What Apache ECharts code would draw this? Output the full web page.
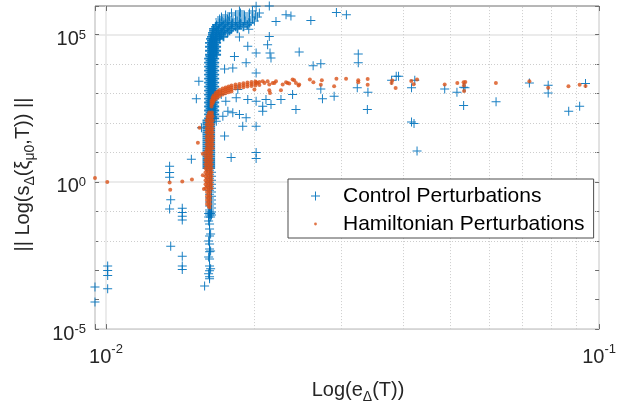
<!DOCTYPE html>
<html><head><meta charset="utf-8">
<script src="https://cdn.jsdelivr.net/npm/echarts/dist/echarts.min.js"></script>
<style>html,body{margin:0;padding:0;background:#fff}#c{width:619px;height:409px}</style>
</head><body><div id="c"></div>
<script>
// ---- axes / ticks ----
const xRange = [0.009501, 0.1];
const yRange = [1e-5, 9.4e5];
const xMajorTicks = [0.01, 0.1];
const yMajorTicks = [1e-5, 1, 1e5];
const xMinorGrid = [0.02, 0.03, 0.04, 0.05, 0.06, 0.07, 0.08, 0.09];
const yMinorGrid = [1e-4, 1e-3, 1e-2, 1e-1, 1e1, 1e2, 1e3, 1e4];
const seriesNames = ['Control Perturbations', 'Hamiltonian Perturbations'];
const xTitle = 'Log(e{sub|Δ}(T))';
const yTitle = '|| Log(s{sub|Δ}(ξ{sub|μ0},T)) ||';

// ---- Control perturbations (x, y) ----
const controlLower = [
[0.01585,0.00029],[0.01622,0.00051],[0.01622,0.0006],[0.01615,0.00076],[0.01622,0.00095],[0.0163,0.00112],[0.01622,0.0014],[0.01622,0.0024],[0.01615,0.0028],[0.01622,0.0042],[0.0163,0.0045],[0.01622,0.0053],[0.01622,0.0078],[0.01615,0.0099],[0.01622,0.0146],[0.0163,0.017],[0.01622,0.0251],[0.01622,0.0371],[0.01615,0.0469],
[0.01615,0.064],[0.0163,0.064],[0.01622,0.075],[0.01637,0.075],[0.01615,0.085],[0.0163,0.085],[0.01622,0.094],[0.01637,0.094],
[0.01622,0.11],[0.01637,0.129],[0.01622,0.151],[0.01637,0.176],[0.01622,0.206],[0.01637,0.241],[0.01622,0.281],[0.01637,0.328],[0.01622,0.38],[0.01637,0.449],[0.01622,0.524],[0.01637,0.612],[0.01622,0.716],[0.01637,0.836],[0.01622,0.977],[0.01637,1.14],[0.01622,1.33],[0.01637,1.56],[0.01622,1.82],[0.01637,2.13],[0.01622,2.49]
];
const controlMiddle = [
[0.01603,2.91],[0.0163,2.91],[0.01603,3.4],[0.0163,3.4],[0.01603,3.97],[0.0163,3.97],[0.01603,4.64],[0.0163,4.64],[0.01603,5.42],[0.0163,5.42],
[0.01603,6.33],[0.0163,6.33],[0.01603,7.4],[0.0163,7.4],[0.01603,8.64],[0.0163,8.64],[0.01603,10.1],[0.0163,10.1],[0.01603,11.8],[0.0163,11.8],
[0.01603,13.8],[0.0163,13.8],[0.01603,16.1],[0.0163,16.1],[0.01603,18.8],[0.0163,18.8],[0.01603,22],[0.0163,22],[0.01603,25.7],[0.0163,25.7],
[0.01603,30],[0.0163,30],[0.01603,35.1],[0.0163,35.1],[0.01603,41],[0.0163,41],[0.01603,48],[0.0163,48],[0.01603,56],[0.0163,56],
[0.01603,65.5],[0.0163,65.5],[0.01603,76.5],[0.0163,76.5],[0.01603,89.4],[0.0163,89.4],[0.01603,104],[0.0163,104],[0.01603,122],[0.0163,122]
];
const controlDense = [
[0.01615,143],[0.01637,143],[0.01661,143],[0.01626,167],[0.01649,167],
[0.01615,195],[0.01637,195],[0.01661,195],[0.01626,228],[0.01649,228],
[0.01615,266],[0.01637,266],[0.01661,266],[0.01626,311],[0.01649,311],
[0.01615,363],[0.01637,363],[0.01661,363],[0.01626,424],[0.01649,424],
[0.01615,496],[0.01637,496],[0.01661,496],[0.01626,579],[0.01649,579],
[0.01615,677],[0.01637,677],[0.01661,677],[0.01626,791],[0.01649,791],
[0.01615,925],[0.01637,925],[0.01661,925],[0.01626,1080],[0.01649,1080],
[0.01615,1262],[0.01637,1262],[0.01661,1262],[0.01626,1475],[0.01649,1475],
[0.01615,1723],[0.01637,1723],[0.01661,1723],[0.01626,2013],[0.01649,2013],
[0.01615,2353],[0.01637,2353],[0.01661,2353],[0.01626,2749],[0.01649,2749],
[0.01615,3213],[0.01637,3213],[0.01661,3213],[0.01626,3754],[0.01649,3754],
[0.01615,4386],[0.01637,4386],[0.01661,4386],[0.01626,5125],[0.01649,5125],
[0.01615,5988],[0.01637,5988],[0.01661,5988],[0.01626,6997],[0.01649,6997],
[0.01615,8176],[0.01637,8176],[0.01661,8176],[0.01626,9553],[0.01649,9553],
[0.01615,11162],[0.01637,11162],[0.01661,11162],[0.01626,13042],[0.01649,13042],
[0.01615,15239],[0.01637,15239],[0.01661,15239],[0.01626,17806],[0.01649,17806],
[0.01622,20806],[0.01645,20806],[0.01676,20806],[0.01637,24311],[0.01661,24311],
[0.01622,28406],[0.01645,28406],[0.01676,28406],[0.01637,33190],[0.01661,33190],
[0.01622,38781],[0.01645,38781],[0.01676,38781],[0.01637,45314],[0.01661,45314],
[0.01622,52947],[0.01645,52947],[0.01676,52947],[0.01637,61866],[0.01661,61866]
];
const controlTop = [
[0.0163,72287],[0.01653,72287],[0.01676,72287],[0.017,72287],
[0.01637,84464],[0.01669,84464],[0.017,84464],[0.01731,84464],
[0.01645,98692],[0.01676,98692],[0.01715,98692],
[0.01645,115317],[0.01676,115317],[0.01715,115317],[0.01764,115317],
[0.01653,134742],[0.01692,134742],[0.01731,134742],[0.0178,134742],
[0.01653,157440],[0.01692,157440],[0.0174,157440],[0.01797,157440],[0.01848,157440],
[0.01669,183960],[0.01715,183960],[0.01764,183960],[0.01831,183960],[0.019,183960],
[0.01676,214948],[0.01731,214948],[0.01797,214948],[0.01865,214948],[0.01936,214948],
[0.017,251157],[0.01748,251157],[0.01806,251157],[0.01874,251157],[0.01954,251157]
];
const controlCrest = [
[0.0172,293464],[0.01774,293464],[0.01845,293464],[0.01915,293464],[0.02,293464],
[0.017,342897],[0.01764,342897],[0.01831,342897],[0.01909,342897],[0.01982,342897],
[0.01715,400657],[0.0178,400657],[0.01865,400657],[0.01954,400657],[0.02028,400657],
[0.01748,468147],[0.01831,468147],[0.01909,468147],[0.02009,468147],
[0.01797,547005],[0.01874,547005],[0.01954,547005],[0.02047,547005],
[0.01865,640000],[0.01982,640000]
];
const controlOutliers = [
[0.02016,9.2e5],[0.02144,9.35e5],[0.02318,4.7e5],[0.02372,4.3e5],[0.02603,3.0e5],[0.02933,5.6e5],[0.03073,4.7e5],[0.01948,1.54e5],[0.02212,2.8e5],
[0.02144,8.7e4],[0.01865,8.3e4],[0.01939,4.0e4],[0.02127,4.5e4],[0.02016,2.4e4],[0.02151,2.4e4],[0.02161,1.6e4],[0.01822,1.8e4],[0.01924,1.12e4],
[0.01808,7.4e3],[0.0174,6.8e3],[0.02016,5.0e3],[0.02465,2.6e4],[0.01543,2.6e3],[0.01525,661],[0.01851,1.36e3],[0.02016,548],[0.02111,626],
[0.02079,372],[0.02264,626],[0.0239,925],[0.02428,288],[0.01924,151],[0.02016,78],[0.0174,36],[0.01674,115],[0.01794,6.7],[0.02016,9.9],[0.02016,6.2],
[0.0149,5.9],[0.01346,3.4],[0.01346,2.1],[0.01346,1.45],[0.01713,925],[0.01767,252],[0.01808,224],[0.01726,171],[0.01865,195],[0.02161,424],
[0.02079,252],[0.01894,78],[0.01562,69],[0.01837,715],[0.01939,626],[0.0175,548],
[0.02631,8.8e3],[0.02727,1.03e4],[0.03248,2.2e4],[0.03248,1.12e4],[0.02727,1.44e3],[0.02748,661],[0.02902,809],[0.03233,1.56e3],[0.03398,1.11e3],
[0.03389,288],[0.03795,2.81e3],[0.03878,3.85e3],[0.0392,3.85e3],[0.04165,1.56e3],[0.04229,2.81e3],[0.04165,107],[0.04214,97],[0.04274,11.2],
[0.04863,1.44e3],[0.05149,1.11e3],[0.05312,1.63e3],[0.05346,1.56e3],[0.05312,389],[0.06181,524],[0.07222,2.3e3],[0.07884,1.9e3],[0.07884,1.05e3],
[0.08677,252],[0.09132,372],[0.09385,2.18e3],
[0.01353,0.246],[0.01346,0.12],[0.01428,0.126],[0.01428,0.092],[0.01428,0.0676],[0.01428,0.0507],[0.01353,0.0065],[0.01428,0.003],[0.01428,0.00138],
[0.01428,0.00106],[0.01008,0.00138],[0.01008,0.00098],[0.01008,0.00066],[0.01008,0.000235],[0.0095,0.00027],[0.0095,8.3e-5]
];

// ---- Hamiltonian perturbations (x, y) ----
const hamiltonianLeft = [
[0.0095,1.35],[0.01006,1.0],[0.01346,0.95],[0.0135,0.54],[0.01428,1.03],[0.01494,1.2],[0.01536,21.5],[0.01548,69],[0.01572,9.1],[0.01572,1.69],[0.0158,0.57]
];
const hamiltonianColumn = [
[0.01622,0.136],[0.01615,0.151],[0.01603,0.176],[0.01626,0.176],[0.01615,0.206],[0.01603,0.241],[0.01626,0.241],[0.01615,0.281],
[0.01603,0.328],[0.01626,0.328],[0.01615,0.38],[0.01603,0.449],[0.01626,0.449],[0.01615,0.524],
[0.01592,0.612],[0.01615,0.612],[0.01637,0.612],[0.01603,0.716],[0.01626,0.716],[0.01592,0.836],[0.01615,0.836],[0.01637,0.836],
[0.01603,0.977],[0.01626,0.977],[0.01592,1.14],[0.01615,1.14],[0.01637,1.14],[0.01603,1.33],[0.01626,1.33],
[0.01592,1.56],[0.01615,1.56],[0.01637,1.56],[0.01603,1.82],[0.01626,1.82],[0.01592,2.13],[0.01615,2.13],[0.01637,2.13],
[0.01603,2.49],[0.01626,2.49],[0.01592,2.91],[0.01615,2.91],[0.01637,2.91],[0.01603,3.4],[0.01626,3.4],
[0.01592,3.97],[0.01615,3.97],[0.01637,3.97],[0.01603,4.64],[0.01626,4.64],[0.01592,5.42],[0.01615,5.42],[0.01637,5.42],
[0.01603,6.33],[0.01626,6.33],[0.01592,7.4],[0.01615,7.4],[0.01637,7.4],[0.01603,8.64],[0.01626,8.64],
[0.01592,10.1],[0.01615,10.1],[0.01637,10.1],[0.01603,11.8],[0.01626,11.8],
[0.016,13.8],[0.01622,13.8],[0.01645,13.8],[0.01611,16.1],[0.01634,16.1],[0.016,18.8],[0.01622,18.8],[0.01645,18.8],
[0.01611,22],[0.01634,22],[0.016,25.7],[0.01622,25.7],[0.01645,25.7],[0.01611,30],[0.01634,30],
[0.016,35.1],[0.01622,35.1],[0.01645,35.1],[0.01611,41],[0.01634,41],[0.016,48],[0.01622,48],[0.01645,48],
[0.01611,56],[0.01634,56],[0.016,65.5],[0.01622,65.5],[0.01645,65.5],[0.01611,76.5],[0.01634,76.5],
[0.016,89.4],[0.01622,89.4],[0.01645,89.4],[0.01611,104],[0.01634,104],[0.016,122],[0.01622,122],[0.01645,122],
[0.01611,143],[0.01634,143],[0.01607,167],[0.01626,167],[0.01645,167],[0.01615,195],[0.01637,195],[0.0162,228],[0.0164,228]
];
const hamiltonianCurve = [
[0.01637,579],[0.01637,496],[0.01637,424],[0.01637,363],
[0.01645,732],[0.01645,626],[0.01645,536],[0.01645,459],
[0.01653,855],[0.01653,732],[0.01653,626],[0.01653,536],
[0.01669,1040],[0.01669,889],[0.01669,761],[0.01669,651],
[0.01684,1167],[0.01684,1000],[0.01684,855],[0.01684,732],
[0.017,1313],[0.017,1123],[0.017,962],[0.017,822],
[0.01724,1475],[0.01724,1262],[0.01724,1081],[0.01724,925],
[0.01748,1619],[0.01748,1387],[0.01748,1186],[0.01748,1015],
[0.01772,1750],[0.01772,1499],[0.01772,1282],[0.01772,1097],
[0.01797,1864],[0.01797,1594],[0.01797,1365],[0.01797,1167],
[0.01831,2014],[0.01831,1723],[0.01831,1475],
[0.01865,2128],[0.01865,1821],[0.01865,1556],
[0.019,2246],[0.019,1923],[0.019,1644],
[0.01936,2354],[0.01936,2014],[0.01936,1723],
[0.01973,2466],[0.01973,2109],[0.01973,1806],
[0.02009,2544],[0.02009,2177],[0.02009,1864],
[0.02047,2448],[0.02047,1937]
];
const hamiltonianPlateau = [
[0.02,1360],[0.02016,2410],[0.02079,2610],[0.02178,2300],
[0.02031,2300],[0.02096,2300],[0.02127,2610],[0.02144,2010],[0.02144,1290],[0.02151,1050],[0.02196,2300],[0.02212,2610],[0.02264,1290],[0.02282,2010],
[0.02318,2410],[0.02335,2300],[0.02353,2180],[0.0239,2970],[0.02408,2810],[0.02428,2300],[0.02458,1860],[0.02465,2010],[0.02591,2970],[0.02634,2410],
[0.0274,2810],[0.02727,1970],[0.02902,1770],[0.02933,3200],[0.03068,3200],[0.03248,2810],[0.03248,2410],[0.03394,3140],[0.03394,1970],[0.03795,2260],
[0.03806,2750],[0.03867,1530],[0.0416,2690],[0.04207,2060],[0.04274,2970],[0.04863,2010],[0.05158,2300],[0.05312,2410],[0.05355,2490],[0.0532,1860],
[0.05323,1220],[0.06176,2300],[0.07222,2590],[0.07884,1560],[0.08667,1770],[0.09132,1990],[0.09385,1820]
];

const FONT = '"Liberation Sans", Arial, Helvetica, sans-serif';
const TXT = '#262626';
const AX = '#6e6e6e';
const plusPath = 'path://M0,4H9V5H0ZM4,0H5V9H4Z';
const boldPlusPath = 'path://M0,3.6H9V5.4H0ZM3.6,0H5.4V9H3.6Z';
const dotPath = 'path://M0,0M9,9M4.5,3.1A1.4,1.4,0,1,1,4.5,5.9A1.4,1.4,0,1,1,4.5,3.1Z';

// crowded parts of the control cloud overlap so much that they read as a solid mass
const crowded = p => ({value: p, symbol: boldPlusPath});
const controlData = controlLower.concat(controlCrest, controlOutliers)
  .concat(controlMiddle.map(crowded), controlDense.map(crowded), controlTop.map(crowded));
const hamiltonianData = hamiltonianLeft.concat(hamiltonianColumn, hamiltonianCurve, hamiltonianPlateau);

function powExp(v) {
  const e = Math.log10(v), r = Math.round(e);
  return Math.abs(e - r) < 1e-6 ? r : null;
}
function xLabel(v) {
  const r = powExp(v);
  return (r !== null && xMajorTicks.some(t => powExp(t) === r)) ? '10{sup|' + r + '}' : '';
}
function yLabel(v) {
  const r = powExp(v);
  return (r !== null && yMajorTicks.some(t => powExp(t) === r)) ? '10{sup|' + r + '}' : '';
}

const chart = echarts.init(document.getElementById('c'), null, {renderer: 'canvas'});
chart.setOption({
  animation: false,
  backgroundColor: '#fff',
  grid: {left: 95, right: 19, top: 6, bottom: 79, show: true, borderColor: AX, borderWidth: 1, backgroundColor: 'transparent'},
  xAxis: [{
    type: 'log', logBase: 10, min: xRange[0], max: xRange[1],
    name: xTitle, nameLocation: 'middle', nameGap: 45,
    nameTextStyle: {fontFamily: FONT, fontSize: 20, color: TXT, lineHeight: 28, padding: [0, 0, 0, 22],
      rich: {sub: {fontFamily: FONT, fontSize: 14, color: TXT, verticalAlign: 'bottom', lineHeight: 12}}},
    axisLine: {show: false},
    axisTick: {show: true, inside: true, length: 5, lineStyle: {color: AX}},
    axisLabel: {formatter: xLabel, margin: 14, fontFamily: FONT, fontSize: 20, color: TXT, lineHeight: 28,
      rich: {sup: {fontFamily: FONT, fontSize: 13, color: TXT, verticalAlign: 'top', lineHeight: 8}}},
    splitLine: {show: true, lineStyle: {color: '#e4e4e4', width: 1.5}}
  }, {
    type: 'log', logBase: 10, min: xRange[0], max: xRange[1], position: 'top',
    axisLine: {show: false}, axisLabel: {show: false}, splitLine: {show: false},
    axisTick: {show: true, inside: true, length: 5, lineStyle: {color: AX}}
  }],
  yAxis: [{
    type: 'log', logBase: 10, min: yRange[0], max: yRange[1], interval: 1,
    name: yTitle, nameLocation: 'middle', nameGap: 58,
    nameTextStyle: {fontFamily: FONT, fontSize: 20, color: TXT, lineHeight: 28, padding: [0, 14, 0, 0],
      rich: {sub: {fontFamily: FONT, fontSize: 14, color: TXT, verticalAlign: 'bottom', lineHeight: 12}}},
    axisLine: {show: false},
    axisTick: {show: true, inside: true, length: 4, lineStyle: {color: AX}},
    axisLabel: {formatter: yLabel, margin: 9, fontFamily: FONT, fontSize: 20, color: TXT, lineHeight: 22, padding: [10, 0, 0, 0],
      rich: {sup: {fontFamily: FONT, fontSize: 13, color: TXT, verticalAlign: 'top', lineHeight: 10}}},
    splitLine: {show: true, lineStyle: {color: ['#e4e4e4', 'rgba(0,0,0,0)', 'rgba(0,0,0,0)', 'rgba(0,0,0,0)', 'rgba(0,0,0,0)'], width: 1.5}}
  }, {
    type: 'log', logBase: 10, min: yRange[0], max: yRange[1], interval: 1, position: 'right',
    axisLine: {show: false}, axisLabel: {show: false}, splitLine: {show: false},
    axisTick: {show: true, inside: true, length: 4, lineStyle: {color: AX}}
  }],
  legend: {
    left: 288, top: 179, orient: 'vertical',
    itemWidth: 45, itemHeight: 9, itemGap: 4, padding: [5, 9, 2, 23],
    borderColor: '#4d4d4d', borderWidth: 1, backgroundColor: '#fff',
    textStyle: {fontFamily: FONT, fontSize: 21, color: '#000', lineHeight: 24},
    data: [{name: seriesNames[0], icon: plusPath}, {name: seriesNames[1], icon: dotPath}]
  },
  series: [{
    name: 'minor-grid', type: 'scatter', data: [], silent: true, z: 1,
    markLine: {silent: true, z: 1, symbol: ['none', 'none'], label: {show: false}, animation: false,
      lineStyle: {type: [1, 2], color: '#cdcdcd', width: 1},
      emphasis: {disabled: true},
      data: xMinorGrid.map(v => ({xAxis: v})).concat(yMinorGrid.map(v => ({yAxis: v})))}
  }, {
    name: seriesNames[0], type: 'scatter', data: controlData, symbol: plusPath, symbolSize: 9, z: 2,
    itemStyle: {color: '#0072BD', opacity: 0.9}
  }, {
    name: seriesNames[1], type: 'scatter', data: hamiltonianData, symbol: 'circle', symbolSize: 4, z: 3,
    itemStyle: {color: '#D95319'}
  }]
});
</script></body></html>
